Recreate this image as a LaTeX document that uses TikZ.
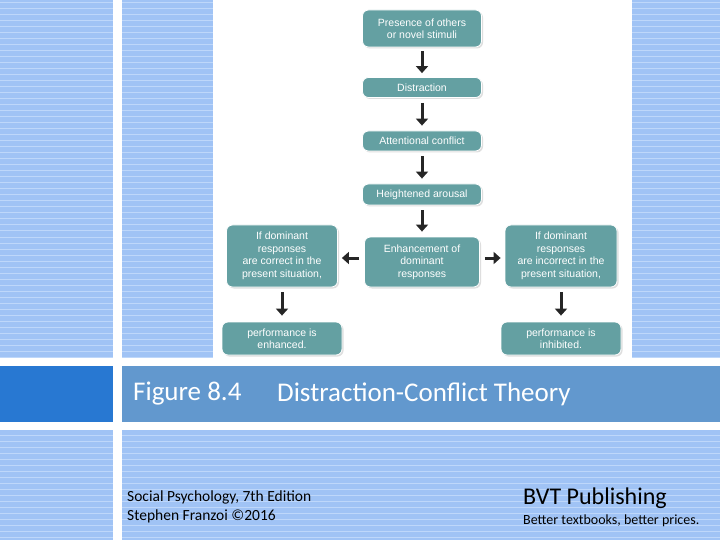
\documentclass[tikz,border=0pt]{standalone}
\usepackage{fontspec}
\setmainfont{Carlito}
\newfontfamily\boxfont{Liberation Sans}
\usetikzlibrary{arrows.meta,shadows}
\definecolor{stripe}{RGB}{160,195,245}
\definecolor{stripel}{RGB}{190,215,250}
\definecolor{bar}{RGB}{98,152,206}
\definecolor{bardark}{RGB}{40,120,210}
\definecolor{teal}{RGB}{100,160,162}
\tikzset{
 box/.style={draw=white,line width=0.8pt,fill=teal,rounded corners=6pt,text=white,font=\boxfont\fontsize{10.5}{12.5}\selectfont,align=center,inner sep=1pt,drop shadow={shadow xshift=1.5pt,shadow yshift=-1.5pt,fill=gray!50}},
 arr/.style={-{Triangle[length=7pt,width=12pt]},line width=3pt,black!85}
}
\begin{document}
\begin{tikzpicture}[x=1pt,y=-1pt]
\useasboundingbox (0,0) rectangle (720,540);
\fill[stripe] (0,0) rectangle (720,540);
\foreach \y in {3,9,...,540} \draw[stripel,line width=1pt] (0,\y) -- (720,\y);
\fill[white] (113,0) rectangle (122,540);
\fill[white] (0,358) rectangle (720,366);
\fill[white] (0,422) rectangle (720,430);
\fill[white] (213,0) rectangle (632,358);
\fill[bardark] (0,366) rectangle (113,422);
\fill[bar] (122,366) rectangle (720,422);
\node[anchor=west,text=white,font=\fontsize{27}{30}\selectfont,inner sep=0] (fig) at (133,394) {Figure 8.4};
\node[anchor=west,text=white,font=\fontsize{27}{30}\selectfont,inner sep=0] (ttl) at (277,394) {Distraction-Conflict Theory};
\node[anchor=west,align=left,font=\fontsize{15.5}{19.5}\selectfont,inner sep=0] (src) at (127,507) {Social Psychology, 7th Edition\\Stephen Franzoi ©2016};
\node[anchor=west,font=\fontsize{24}{28}\selectfont,inner sep=0] (pub) at (523,498) {BVT Publishing};
\node[anchor=west,font=\fontsize{14}{16}\selectfont,inner sep=0] (tag) at (523,521) {Better textbooks, better prices.};
\node[box,minimum width=119pt,minimum height=37pt] (a) at (422,28.5) {Presence of others\\or novel stimuli};
\node[box,minimum width=119pt,minimum height=20pt] (b) at (422,87.5) {Distraction};
\node[box,minimum width=119pt,minimum height=20pt] (c) at (422,141) {Attentional conflict};
\node[box,minimum width=119pt,minimum height=21pt] (d) at (422,194.5) {Heightened arousal};
\node[box,minimum width=115pt,minimum height=50pt] (e) at (422,262) {Enhancement of\\dominant\\responses};
\node[box,minimum width=111pt,minimum height=62pt] (l) at (282,256) {If dominant\\responses\\are correct in the\\present situation,};
\node[box,minimum width=112pt,minimum height=62pt] (r) at (561,256) {If dominant\\responses\\are incorrect in the\\present situation,};
\node[box,minimum width=120pt,minimum height=33pt] (le) at (282,338.5) {performance is\\enhanced.};
\node[box,minimum width=120pt,minimum height=33pt] (ri) at (561,338.5) {performance is\\inhibited.};
\coordinate (ew) at ([xshift=-5pt,yshift=4pt]e.west);
\coordinate (ee) at ([xshift=5pt,yshift=4pt]e.east);
\draw[arr] ([yshift=-4pt]a.south) -- ([yshift=4pt]b.north);
\draw[arr] ([yshift=-5pt]b.south) -- ([yshift=5pt]c.north);
\draw[arr] ([yshift=-5pt]c.south) -- ([yshift=5pt]d.north);
\draw[arr] ([yshift=-5pt]d.south) -- ([yshift=5pt]e.north);
\draw[arr] (ew) -- ([xshift=4pt]l.east |- ew);
\draw[arr] (ee) -- ([xshift=-4pt]r.west |- ee);
\draw[arr] ([yshift=-5pt]l.south) -- ([yshift=6pt]le.north);
\draw[arr] ([yshift=-5pt]r.south) -- ([yshift=6pt]ri.north);
\end{tikzpicture}
\end{document}
